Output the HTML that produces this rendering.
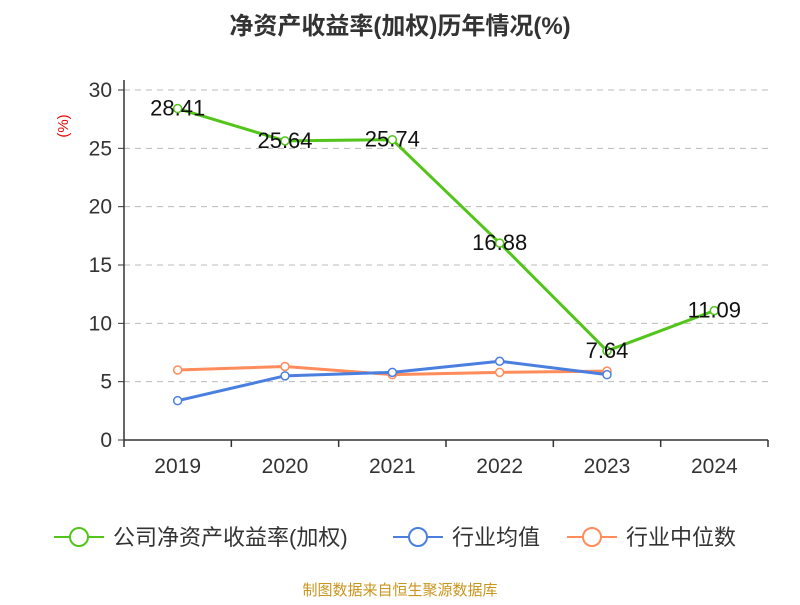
<!DOCTYPE html>
<html><head><meta charset="utf-8"><style>
body{margin:0;background:#fff;font-family:"Liberation Sans","Noto Sans CJK SC",sans-serif;}
svg text{font-family:"Liberation Sans","Noto Sans CJK SC",sans-serif;}
</style></head><body>
<svg id="chart" width="800" height="600">
<text x="400" y="34" text-anchor="middle" font-size="24" font-weight="bold" fill="#333">净资产收益率(加权)历年情况(%)</text>
<text x="68" y="126" text-anchor="middle" font-size="15" fill="#e00" transform="rotate(-90 68 126)">(%)</text>
<g id="grid"></g><g id="axes"></g><g id="series"></g>
<g>
<g><line x1="54" y1="537" x2="104" y2="537" stroke="#52c41a" stroke-width="2"/><circle cx="79" cy="537" r="9" fill="#fff" stroke="#52c41a" stroke-width="2"/><text x="113" y="545" font-size="22" fill="#333">公司净资产收益率(加权)</text></g>
<g><line x1="393" y1="537" x2="443" y2="537" stroke="#4a7fe0" stroke-width="2"/><circle cx="418" cy="537" r="9" fill="#fff" stroke="#4a7fe0" stroke-width="2"/><text x="452" y="545" font-size="22" fill="#333">行业均值</text></g>
<g><line x1="567" y1="537" x2="617" y2="537" stroke="#ff8c5a" stroke-width="2"/><circle cx="592" cy="537" r="9" fill="#fff" stroke="#ff8c5a" stroke-width="2"/><text x="626" y="545" font-size="22" fill="#333">行业中位数</text></g>
</g>
<text x="400" y="595" text-anchor="middle" font-size="15" fill="#c8961e">制图数据来自恒生聚源数据库</text>
</svg>
<script>
const categories=["2019","2020","2021","2022","2023","2024"];
const companyValues=[28.41,25.64,25.74,16.88,7.64,11.09];
const industryAvg=[3.37,5.5,5.8,6.75,5.6];
const industryMedian=[6.0,6.3,5.6,5.8,5.9];
const yTicks=[0,5,10,15,20,25,30];
const NS="http://www.w3.org/2000/svg";
const X0=124,X1=768,Y0=440,Y1=90,yMax=30;
const band=(X1-X0)/categories.length;
const xs=i=>X0+band*(i+0.5);
const ys=v=>Y0-(v/yMax)*(Y0-Y1);
function mk(tag,attrs,parent){const e=document.createElementNS(NS,tag);for(const k in attrs)e.setAttribute(k,attrs[k]);document.getElementById(parent).appendChild(e);return e;}
yTicks.forEach(t=>{
  if(t>0){const g=mk('line',{x1:X0,x2:X1,y1:ys(t),y2:ys(t),stroke:'#bbb','stroke-dasharray':'6,5'},'grid');
  
  }
  const tk=mk('line',{x1:X0-6,x2:X0,y1:ys(t),y2:ys(t),stroke:'#333'},'axes');
  
  
  const l=mk('text',{x:X0-12,y:ys(t)+7,'text-anchor':'end','font-size':21,fill:'#333'},'axes');l.textContent=t;
  
  
});
const ya=mk('line',{x1:X0,x2:X0,y1:Y1-10,y2:Y0,stroke:'#333','stroke-width':1.5},'axes');


const xa=mk('line',{x1:X0,x2:X1,y1:Y0,y2:Y0,stroke:'#333','stroke-width':1.5},'axes');


for(let i=0;i<=categories.length;i++){const t=mk('line',{x1:X0+band*i,x2:X0+band*i,y1:Y0,y2:Y0+7,stroke:'#333','stroke-width':1.5},'axes');

}
categories.forEach((c,i)=>{const l=mk('text',{x:xs(i),y:473,'text-anchor':'middle','font-size':21,fill:'#333'},'axes');l.textContent=c;

});
function series(vals,color,name,labels){
  const p=mk('polyline',{points:vals.map((v,i)=>xs(i)+','+ys(v)).join(' '),fill:'none',stroke:color,'stroke-width':3,'stroke-linejoin':'round'},'series');
  
  
  vals.forEach((v,i)=>{const c=mk('circle',{cx:xs(i),cy:ys(v),r:4,fill:'#fff',stroke:color,'stroke-width':1.5},'series');
  
  
  if(labels){const t=mk('text',{x:xs(i),y:ys(v)+7,'text-anchor':'middle','font-size':22,fill:'#111'},'series');t.textContent=v.toFixed(2);
  
  }});
}
series(industryMedian,'#ff8c5a','industry-median',false);
series(industryAvg,'#4a7fe0','industry-average',false);
series(companyValues,'#52c41a','company-roe',true);
</script>
</body></html>
